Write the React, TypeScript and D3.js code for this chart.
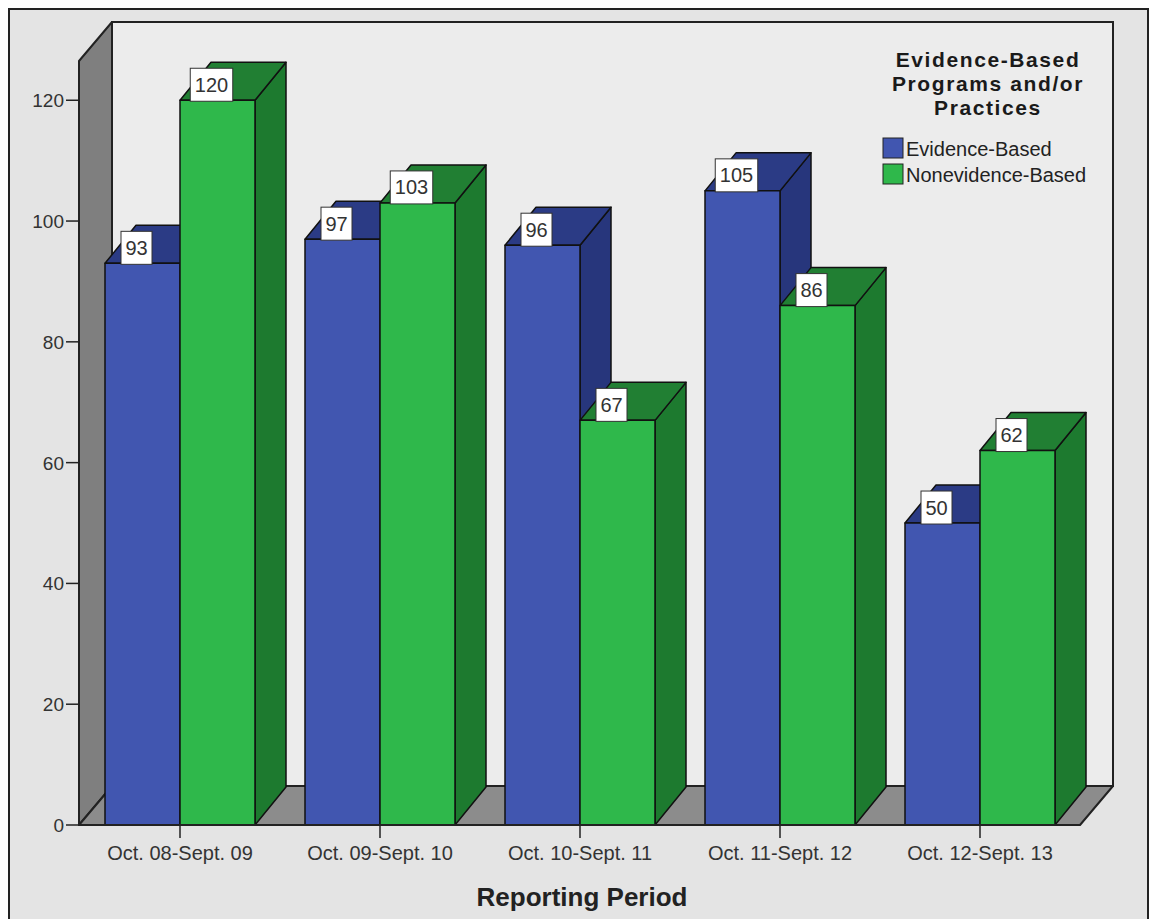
import React from "react";
import * as d3 from "d3";

// Reporting periods and counts per program type
const categories = [
  "Oct. 08-Sept. 09",
  "Oct. 09-Sept. 10",
  "Oct. 10-Sept. 11",
  "Oct. 11-Sept. 12",
  "Oct. 12-Sept. 13",
];
const seriesNames = ["Evidence-Based", "Nonevidence-Based"];
const evidenceBased = [93, 97, 96, 105, 50];
const nonevidenceBased = [120, 103, 67, 86, 62];
const yTicks = [0, 20, 40, 60, 80, 100, 120];
const legendTitle = ["Evidence-Based", "Programs and/or", "Practices"];
const xAxisTitle = "Reporting Period";

const W = 1151;
const H = 919;
const FONT = "'Liberation Sans', Arial, Helvetica, sans-serif";

// plot frame (front plane)
const X0 = 80;
const X1 = 1080;
const Y0 = 825;
const YTOP = 61;
// wall / floor depth offset
const WDX = 33;
const WDY = 39;
// bar depth offset
const BDX = 31;
const BDY = 38;

const seriesColors = [
  { front: "#4156b0", side: "#27367c", top: "#2b3b85" },
  { front: "#2fb84b", side: "#1d7a2f", top: "#217f33" },
];

export default function App() {
  const y = d3.scaleLinear().domain([0, 126.5]).range([Y0, YTOP]);
  const x = d3
    .scaleBand<string>()
    .domain(categories)
    .range([X0, X1])
    .paddingInner(0.25)
    .paddingOuter(0.125);
  const xs = d3
    .scaleBand<string>()
    .domain(seriesNames)
    .range([0, x.bandwidth()]);

  const series = [evidenceBased, nonevidenceBased];

  const bars: { cat: string; s: number; v: number }[] = [];
  categories.forEach((c, i) => {
    seriesNames.forEach((_, s) => bars.push({ cat: c, s, v: series[s][i] }));
  });

  const pts = (p: [number, number][]) => p.map((d) => d.join(",")).join(" ");

  return (
    <svg
      width={W}
      height={H}
      style={{ position: "absolute", left: 0, top: 0, fontFamily: FONT }}
    >
      <rect x={0} y={0} width={W} height={H} fill="#ffffff" />
      <rect
        x={9}
        y={9}
        width={1139}
        height={930}
        fill="#e4e4e4"
        stroke="#222"
        strokeWidth={2}
      />

      {/* back wall */}
      <rect
        x={X0 - 1 + WDX}
        y={YTOP - WDY}
        width={X1 - X0 + 1}
        height={Y0 - YTOP}
        fill="#ececec"
        stroke="#222"
        strokeWidth={2}
      />
      {/* left wall */}
      <polygon
        points={pts([
          [X0 - 1, YTOP],
          [X0 - 1 + WDX, YTOP - WDY],
          [X0 - 1 + WDX, Y0 - WDY],
          [X0 - 1, Y0],
        ])}
        fill="#7f7f7f"
        stroke="#222"
        strokeWidth={2}
        strokeLinejoin="round"
      />
      {/* floor */}
      <polygon
        points={pts([
          [X0 - 1, Y0],
          [X0 - 1 + WDX, Y0 - WDY],
          [X1 + WDX, Y0 - WDY],
          [X1, Y0],
        ])}
        fill="#8c8c8c"
        stroke="#222"
        strokeWidth={2}
        strokeLinejoin="round"
      />

      {/* bars */}
      {bars.map((b, i) => {
        const bx = (x(b.cat) as number) + (xs(seriesNames[b.s]) as number);
        const bw = xs.bandwidth();
        const ty = y(b.v);
        const c = seriesColors[b.s];
        return (
          <g key={i} stroke="#111" strokeWidth={1.5} strokeLinejoin="round">
            <polygon
              points={pts([
                [bx + bw, ty],
                [bx + bw + BDX, ty - BDY],
                [bx + bw + BDX, Y0 - BDY],
                [bx + bw, Y0],
              ])}
              fill={c.side}
            />
            <polygon
              points={pts([
                [bx, ty],
                [bx + BDX, ty - BDY],
                [bx + bw + BDX, ty - BDY],
                [bx + bw, ty],
              ])}
              fill={c.top}
            />
            <rect x={bx} y={ty} width={bw} height={Y0 - ty} fill={c.front} />
          </g>
        );
      })}

      {/* value labels */}
      {bars.map((b, i) => {
        const bx = (x(b.cat) as number) + (xs(seriesNames[b.s]) as number);
        const cx = bx + xs.bandwidth() / 2 - 6;
        const ty = y(b.v);
        const txt = String(b.v);
        const bw = txt.length * 11.5 + 8;
        const bh = 33;
        return (
          <g key={"l" + i}>
            <rect
              x={cx - bw / 2}
              y={ty + 1 - bh}
              width={bw}
              height={bh}
              fill="#ffffff"
              stroke="#333"
              strokeWidth={1}
            />
            <text
              x={cx}
              y={ty + 1 - bh / 2 + 7}
              textAnchor="middle"
              fontSize={20}
              fill="#333"
            >
              {txt}
            </text>
          </g>
        );
      })}

      {/* y axis */}
      <line x1={X0 - 1} x2={X0 - 1} y1={YTOP} y2={Y0} stroke="#222" strokeWidth={2} />
      {yTicks.map((t) => (
        <g key={t}>
          <line x1={66} x2={X0 - 1} y1={y(t)} y2={y(t)} stroke="#222" strokeWidth={1.5} />
          <text
            x={64}
            y={y(t) + 7}
            textAnchor="end"
            fontSize={19}
            fill="#333"
          >
            {t}
          </text>
        </g>
      ))}

      {/* x axis */}
      <line x1={X0 - 1} x2={X1} y1={Y0} y2={Y0} stroke="#222" strokeWidth={2} />
      {categories.map((c) => {
        const cx = (x(c) as number) + x.bandwidth() / 2;
        return (
          <g key={c}>
            <line x1={cx} x2={cx} y1={Y0} y2={838} stroke="#222" strokeWidth={1.5} />
            <text x={cx} y={860} textAnchor="middle" fontSize={20} fill="#333">
              {c}
            </text>
          </g>
        );
      })}
      <text
        x={582}
        y={906}
        textAnchor="middle"
        fontSize={26}
        fontWeight="bold"
        fill="#222"
      >
        {xAxisTitle}
      </text>

      {/* legend */}
      {legendTitle.map((t, i) => (
        <text
          key={t}
          x={988}
          y={67 + i * 24}
          textAnchor="middle"
          fontSize={21}
          fontWeight="bold"
          letterSpacing={1.6}
          fill="#1a1a1a"
        >
          {t}
        </text>
      ))}
      {seriesNames.map((s, i) => (
        <g key={s}>
          <rect
            x={883}
            y={138 + i * 26}
            width={20}
            height={20}
            fill={seriesColors[i].front}
            stroke="#222"
            strokeWidth={1}
          />
          <text x={906} y={156 + i * 26} fontSize={20} fill="#222">
            {s}
          </text>
        </g>
      ))}
    </svg>
  );
}
